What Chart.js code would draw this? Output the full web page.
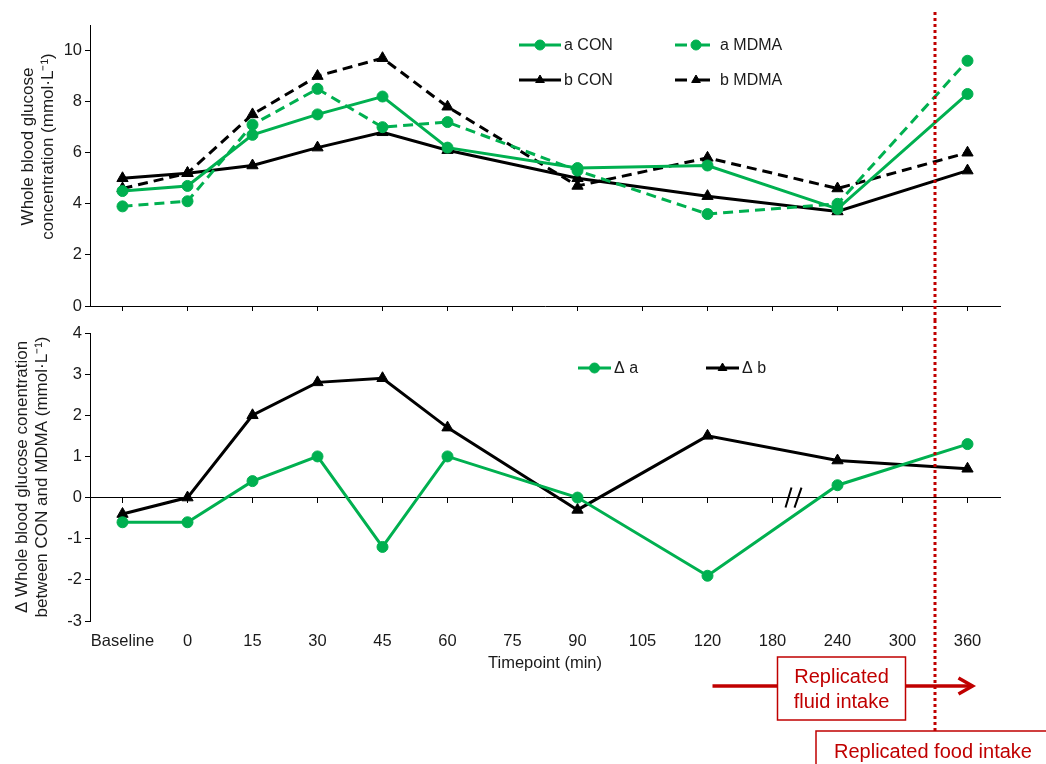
<!DOCTYPE html>
<html>
<head>
<meta charset="utf-8">
<script src="https://cdn.jsdelivr.net/npm/chart.js@4.4.0/dist/chart.umd.min.js"></script>
<style>
  html, body { margin: 0; padding: 0; background: #fff; }
  #wrap { position: relative; width: 1046px; height: 764px; overflow: hidden; }
  #topChart { position: absolute; left: 0; top: 0; }
  #bottomChart { position: absolute; left: 0; top: 320px; }
</style>
</head>
<body>
<div id="wrap">
  <canvas id="topChart" width="1046" height="320"></canvas>
  <canvas id="bottomChart" width="1046" height="444"></canvas>
</div>
<script>
// categories (time points)
const timepoints = ["Baseline", "0", "15", "30", "45", "60", "75", "90", "105", "120", "180", "240", "300", "360"];

// whole blood glucose (mmol/L), null = not sampled
const aCon  = [4.5, 4.7, 6.7, 7.5, 8.2, 6.2, null, 5.4, null, 5.5, null, 3.8, null, 8.3];
const aMdma = [3.9, 4.1, 7.1, 8.5, 7.0, 7.2, null, 5.3, null, 3.6, null, 4.0, null, 9.6];
const bCon  = [5.0, 5.2, 5.5, 6.2, 6.8, 6.1, null, 5.0, null, 4.3, null, 3.7, null, 5.3];
const bMdma = [4.6, 5.2, 7.5, 9.0, 9.7, 7.8, null, 4.7, null, 5.8, null, 4.6, null, 6.0];

// difference MDMA - CON
const deltaA = [-0.6, -0.6, 0.4, 1.0, -1.2, 1.0, null, 0.0, null, -1.9, null, 0.3, null, 1.3];
const deltaB = [-0.4, 0.0, 2.0, 2.8, 2.9, 1.7, null, -0.3, null, 1.5, null, 0.9, null, 0.7];

// tick labels
const topTicks = [0, 2, 4, 6, 8, 10];
const bottomTicks = [-3, -2, -1, 0, 1, 2, 3, 4];

const GREEN = "#00B050";
const BLACK = "#000000";
const RED = "#C00000";
const FONT = "'Liberation Sans', Arial, sans-serif";

Chart.defaults.font.family = FONT;
Chart.defaults.color = "#1a1a1a";

const series = (label, data, color, dashed, style) => ({
  label: label,
  data: data,
  borderColor: color,
  backgroundColor: color,
  pointBackgroundColor: color,
  pointBorderColor: color,
  borderWidth: 3,
  borderDash: dashed ? [10, 6] : [],
  pointStyle: style,
  pointRadius: style === "triangle" ? 6.5 : 5.5,
  pointBorderWidth: 1,
  spanGaps: true,
  tension: 0
});

// legend drawn inside the plot, spots = [x, y] of each line sample
const boxLegend = {
  id: "boxLegend",
  afterDraw(chart, args, opts) {
    const ctx = chart.ctx;
    chart.data.datasets.forEach((ds, i) => {
      const [x, y] = opts.spots[i];
      ctx.save();
      ctx.strokeStyle = ds.borderColor;
      ctx.lineWidth = 3;
      ctx.setLineDash(ds.borderDash.length ? [12, 11] : []);
      ctx.beginPath();
      ctx.moveTo(x, y);
      ctx.lineTo(x + opts.lineLen, y);
      ctx.stroke();
      ctx.setLineDash([]);
      ctx.fillStyle = ds.pointBackgroundColor;
      ctx.strokeStyle = ds.pointBorderColor;
      ctx.lineWidth = 1;
      Chart.helpers.drawPoint(ctx, { pointStyle: ds.pointStyle, radius: opts.radius, borderWidth: 1, rotation: 0 }, x + opts.lineLen / 2, y);
      ctx.fillStyle = "#1a1a1a";
      ctx.font = "16px " + FONT;
      ctx.textAlign = "left";
      ctx.textBaseline = "middle";
      ctx.fillText(ds.label, x + opts.lineLen + 3, y + 1);
      ctx.restore();
    });
  }
};

// rotated two-line y axis title
const yTitle = {
  id: "yTitle",
  afterDraw(chart, args, opts) {
    const ctx = chart.ctx;
    const yc = (chart.chartArea.top + chart.chartArea.bottom) / 2 + opts.shift;
    ctx.save();
    ctx.translate(opts.x, yc);
    ctx.rotate(-Math.PI / 2);
    ctx.font = "17px " + FONT;
    ctx.fillStyle = "#1a1a1a";
    ctx.textAlign = "center";
    ctx.textBaseline = "middle";
    opts.lines.forEach((t, i) => ctx.fillText(t, 0, i * 20));
    ctx.restore();
  }
};

// red dotted line between the 300 and 360 slots
const intakeLine = {
  id: "intakeLine",
  afterDraw(chart, args, opts) {
    const x = chart.scales.x;
    const px = Math.round((x.getPixelForValue(12) + x.getPixelForValue(13)) / 2);
    const ctx = chart.ctx;
    ctx.save();
    ctx.strokeStyle = RED;
    ctx.lineWidth = 3;
    ctx.setLineDash([3, 3]);
    ctx.beginPath();
    ctx.moveTo(px, opts.from);
    ctx.lineTo(px, opts.to);
    ctx.stroke();
    ctx.restore();
  }
};

// axis break mark and intake annotations on the lower panel
const notes = {
  id: "notes",
  afterDatasetsDraw(chart) {
    const ctx = chart.ctx;
    const x = chart.scales.x;
    const y0 = chart.scales.y.getPixelForValue(0);
    ctx.save();
    // "//" break between 180 and 240
    const bx = x.getPixelForValue(10) + 21;
    ctx.strokeStyle = BLACK;
    ctx.lineWidth = 2;
    ctx.beginPath();
    ctx.moveTo(bx - 8, y0 + 10); ctx.lineTo(bx - 2, y0 - 10);
    ctx.moveTo(bx + 1, y0 + 10); ctx.lineTo(bx + 8, y0 - 10);
    ctx.stroke();

    // fluid intake arrow
    const ay = 366;
    const ax0 = x.getPixelForValue(9) + 5;
    const ax1 = x.getPixelForValue(13) + 5;
    ctx.strokeStyle = RED;
    ctx.lineWidth = 3.5;
    ctx.beginPath();
    ctx.moveTo(ax0, ay); ctx.lineTo(ax1 - 2, ay);
    ctx.stroke();
    ctx.beginPath();
    ctx.moveTo(ax1 - 14, ay - 8); ctx.lineTo(ax1, ay); ctx.lineTo(ax1 - 14, ay + 8);
    ctx.stroke();

    // fluid intake box
    const fx = x.getPixelForValue(11) + 4;
    ctx.fillStyle = "#fff";
    ctx.lineWidth = 1.5;
    ctx.fillRect(fx - 64, 337, 128, 63);
    ctx.strokeRect(fx - 64, 337, 128, 63);
    ctx.fillStyle = RED;
    ctx.font = "20px " + FONT;
    ctx.textAlign = "center";
    ctx.textBaseline = "middle";
    ctx.fillText("Replicated", fx, 357);
    ctx.fillText("fluid intake", fx, 382);

    // food intake box
    ctx.fillStyle = "#fff";
    ctx.fillRect(816, 411, 240, 40);
    ctx.strokeRect(816, 411, 240, 40);
    ctx.fillStyle = RED;
    ctx.fillText("Replicated food intake", 933, 432);
    ctx.restore();
  }
};

const yAxisCommon = {
  grid: { drawOnChartArea: false, tickLength: 5, color: BLACK },
  border: { color: BLACK, width: 1 },
  ticks: { font: { size: 16.5 }, padding: 3, color: "#1a1a1a" },
  afterFit(s) { s.width = 90; }
};

// upper panel
new Chart(document.getElementById("topChart"), {
  type: "line",
  data: {
    labels: timepoints,
    datasets: [
      series("a CON", aCon, GREEN, false, "circle"),
      series("a MDMA", aMdma, GREEN, true, "circle"),
      series("b CON", bCon, BLACK, false, "triangle"),
      series("b MDMA", bMdma, BLACK, true, "triangle")
    ]
  },
  options: {
    responsive: false,
    animation: false,
    devicePixelRatio: 1,
    layout: { padding: { top: 25, right: 46, left: 0, bottom: 0 } },
    plugins: {
      legend: { display: false },
      tooltip: { enabled: false },
      boxLegend: { spots: [[519, 45], [675, 45], [519, 80], [675, 80]], lineLen: 42, radius: 5 },
      yTitle: { x: 28, shift: -19, lines: ["Whole blood glucose", "concentration (mmol\u00b7L\u207b\u00b9)"] },
      intakeLine: { from: 12, to: 320 }
    },
    scales: {
      x: {
        type: "category",
        offset: true,
        grid: { drawOnChartArea: false, tickLength: 5, color: BLACK },
        border: { color: BLACK, width: 1 },
        ticks: { display: false },
        afterFit(s) { s.height = 14; }
      },
      y: Object.assign({}, yAxisCommon, {
        min: 0,
        max: 11,
        afterBuildTicks(s) { s.ticks = topTicks.map(v => ({ value: v })); }
      })
    }
  },
  plugins: [boxLegend, yTitle, intakeLine]
});

// lower panel
new Chart(document.getElementById("bottomChart"), {
  type: "line",
  data: {
    labels: timepoints,
    datasets: [
      series("\u0394 a", deltaA, GREEN, false, "circle"),
      series("\u0394 b", deltaB, BLACK, false, "triangle")
    ]
  },
  options: {
    responsive: false,
    animation: false,
    devicePixelRatio: 1,
    layout: { padding: { top: 13, right: 46, left: 0, bottom: 0 } },
    plugins: {
      legend: { display: false },
      tooltip: { enabled: false },
      boxLegend: { spots: [[578, 48], [706, 48]], lineLen: 33, radius: 5 },
      yTitle: { x: 22, shift: 0, lines: ["\u0394 Whole blood glucose conentration", "between CON and MDMA (mmol\u00b7L\u207b\u00b9)"] },
      intakeLine: { from: 0, to: 411 }
    },
    scales: {
      x: {
        type: "category",
        offset: true,
        position: "bottom",
        grid: { display: false, drawTicks: false },
        border: { display: false },
        ticks: { font: { size: 16.5 }, padding: 11, maxRotation: 0, autoSkip: false, color: "#1a1a1a" },
        title: { display: true, text: "Timepoint (min)", font: { size: 16.5 }, color: "#1a1a1a", padding: { top: 0, bottom: 91 } },
        afterFit(s) { s.height = 143; }
      },
      xZero: {
        type: "category",
        offset: true,
        position: { y: 0 },
        grid: { drawOnChartArea: false, tickLength: 5, color: BLACK },
        border: { color: BLACK, width: 1 },
        ticks: { display: false }
      },
      y: Object.assign({}, yAxisCommon, {
        min: -3,
        max: 4,
        afterBuildTicks(s) { s.ticks = bottomTicks.map(v => ({ value: v })); }
      })
    }
  },
  plugins: [boxLegend, yTitle, notes, intakeLine]
});
</script>
</body>
</html>
